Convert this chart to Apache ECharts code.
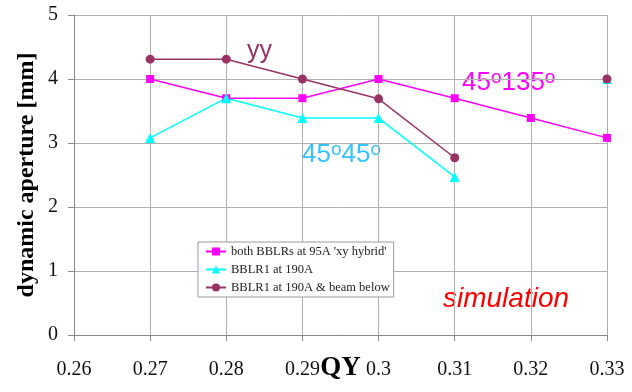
<!DOCTYPE html>
<html>
<head>
<meta charset="utf-8">
<script src="https://cdn.jsdelivr.net/npm/echarts@6/dist/echarts.min.js"></script>
<style>html,body{margin:0;padding:0;background:#fff;}#c{width:632px;height:392px;}</style>
</head>
<body>
<div id="c"></div>
<script>
const qy = [0.27, 0.28, 0.29, 0.30, 0.31, 0.32, 0.33];
const bothBBLRs = [4.0, 3.7, 3.7, 4.0, 3.7, 3.39, 3.08];
const bblr1 = [3.08, 3.7, 3.39, 3.39, 2.47, null, 4.0];
const bblr1Below = [4.31, 4.31, 4.0, 3.69, 2.77, null, 4.0];
const seriesNames = ["both BBLRs at 95A 'xy hybrid'", "BBLR1 at 190A", "BBLR1 at 190A & beam below"];
const yTicks = [0, 1, 2, 3, 4, 5];
const xTicks = [0.26, 0.27, 0.28, 0.29, 0.30, 0.31, 0.32, 0.33];

const toPairs = vals => qy.map((x, i) => [x, vals[i] == null ? '-' : vals[i]]);
const serif = "'Liberation Serif', 'Times New Roman', serif";
const sans = "'Liberation Sans', Arial, sans-serif";
const colors = ['#ff00ff', '#00ffff', '#993366'];

const degRich = (color) => ({
  n: {fontFamily: sans, fontSize: 26, fill: color, lineHeight: 30, verticalAlign: 'bottom'},
  s: {fontFamily: sans, fontSize: 19, fill: color, lineHeight: 30, verticalAlign: 'bottom', padding: [0, 0, 9, 0]}
});

const chart = echarts.init(document.getElementById('c'), null, {renderer: 'canvas'});
chart.setOption({
  animation: false,
  backgroundColor: '#fff',
  grid: {left: 74, right: 25, top: 15, bottom: 57, containLabel: false},
  xAxis: {
    type: 'value', min: xTicks[0], max: xTicks[xTicks.length - 1], interval: 0.01,
    name: 'QY', nameLocation: 'middle', nameGap: 20, nameMoveOverlap: false,
    nameTextStyle: {fontFamily: serif, fontWeight: 'bold', fontSize: 27, color: '#000'},
    axisLine: {lineStyle: {color: '#888', width: 1}},
    axisTick: {show: true, length: 6, lineStyle: {color: '#888'}},
    axisLabel: {margin: 25, fontFamily: serif, fontSize: 20, color: '#111',
      formatter: v => String(parseFloat(v.toFixed(2)))},
    splitLine: {show: true, lineStyle: {color: '#b0b0b0', width: 1}}
  },
  yAxis: {
    type: 'value', min: yTicks[0], max: yTicks[yTicks.length - 1], interval: 1,
    name: 'dynamic aperture [mm]', nameLocation: 'middle', nameGap: 35, nameMoveOverlap: false,
    nameTextStyle: {fontFamily: serif, fontWeight: 'bold', fontSize: 24, color: '#000'},
    axisLine: {show: true, lineStyle: {color: '#888', width: 1}},
    axisTick: {show: true, length: 6, lineStyle: {color: '#888'}},
    axisLabel: {margin: 16, fontFamily: serif, fontSize: 20, color: '#111'},
    splitLine: {show: true, lineStyle: {color: '#b0b0b0', width: 1}}
  },
  legend: {
    orient: 'vertical', left: 198, top: 242,
    backgroundColor: '#fff', borderColor: '#999', borderWidth: 1,
    padding: [3, 4, 3, 7], itemGap: 5, itemWidth: 20, itemHeight: 10,
    textStyle: {fontFamily: serif, fontSize: 12.5, color: '#222'},
    data: seriesNames
  },
  series: [
    {name: seriesNames[0], type: 'line', data: toPairs(bothBBLRs), color: colors[0],
     symbol: 'rect', symbolSize: 8, showAllSymbol: true, lineStyle: {width: 1.5}},
    {name: seriesNames[1], type: 'line', data: toPairs(bblr1), color: colors[1],
     symbol: 'triangle', symbolSize: 10, showAllSymbol: true, lineStyle: {width: 1.5}},
    {name: seriesNames[2], type: 'line', data: toPairs(bblr1Below), color: colors[2],
     symbol: 'circle', symbolSize: 9, showAllSymbol: true, lineStyle: {width: 1.5}}
  ],
  graphic: [
    {type: 'text', left: 247, top: 39, style: {text: 'yy', fill: '#993366', font: '25px ' + sans}},
    {type: 'text', left: 462, top: 68, style: {text: '{n|45}{s|o}{n|135}{s|o}', rich: degRich('#ff00ff')}},
    {type: 'text', left: 302, top: 140, style: {text: '{n|45}{s|o}{n|45}{s|o}', rich: degRich('#33c4ff')}},
    {type: 'text', left: 443, top: 285, style: {text: 'simulation', fill: '#ff0000', font: 'italic 28px ' + sans}}
  ]
});
</script>
</body>
</html>
